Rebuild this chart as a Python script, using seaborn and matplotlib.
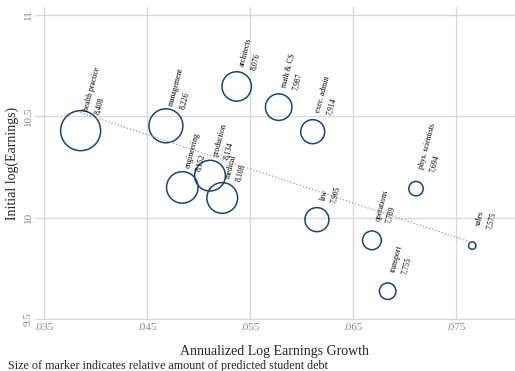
import numpy as np
import pandas as pd
from matplotlib import pyplot as plt
import seaborn as sns

# occupation groups, growth vs initial earnings, label value (predicted debt)
occupations = [
    "health practice", "management", "architects", "math & CS", "exec. admin",
    "phys. scientists", "law", "operations", "sales", "transport",
    "engineering", "production", "medical",
]
growth = [0.03856, 0.04684, 0.05371, 0.05779, 0.06109,
          0.07112, 0.06150, 0.06684, 0.07658, 0.06837,
          0.04843, 0.05112, 0.05231]
log_earn = [10.429, 10.453, 10.647, 10.545, 10.424,
            10.143, 9.990, 9.888, 9.862, 9.637,
            10.149, 10.207, 10.097]
debt_label = ["8,408", "8,226", "8,076", "7,987", "7,914",
              "7,694", "7,905", "7,789", "7,575", "7,755",
              "8,152", "8,134", "8,108"]
# relative amount of predicted student debt (marker weight)
rel_debt = [100, 72, 54, 44, 36, 13, 36, 22, 3.4, 17, 62, 59, 59]

x_ticks = [0.035, 0.045, 0.055, 0.065, 0.075]
x_tick_labels = [".035", ".045", ".055", ".065", ".075"]
y_ticks = [9.5, 10, 10.5, 11]
y_tick_labels = ["9.5", "10", "10.5", "11"]

df = pd.DataFrame({
    "occ": occupations,
    "growth": growth,
    "log_earn": log_earn,
    "label": debt_label,
    "w": rel_debt,
})

sns.set_style("white")
plt.rcParams["font.family"] = ["Liberation Serif", "DejaVu Serif"]

navy = "#1a476f"
grid_col = "#dadada"
tick_col = "#8a8a8a"

fig = plt.figure(figsize=(5.15, 3.71), dpi=100)
ax = fig.add_axes([35 / 515, 51 / 371, 480 / 515, 313 / 371])

ax.set_xlim(0.03413, 0.08073)
ax.set_ylim(9.495, 11.039)
ax.set_xticks(x_ticks)
ax.set_xticklabels(x_tick_labels)
ax.set_yticks(y_ticks)
ax.set_yticklabels(y_tick_labels, rotation=90, va="center")
ax.grid(True, color=grid_col, linewidth=1.0)
ax.set_axisbelow(True)
for s in ax.spines.values():
    s.set_visible(False)
ax.tick_params(axis="both", length=0, labelsize=8, labelcolor=tick_col)
ax.tick_params(axis="x", pad=2)
ax.tick_params(axis="y", pad=1.5)

# marker area proportional to debt weight
sns.scatterplot(
    data=df, x="growth", y="log_earn", s=df["w"] * 8.3,
    facecolor="none", edgecolor=navy, linewidth=1.1, ax=ax, legend=False,
)

# fitted line
sns.regplot(
    data=df, x="growth", y="log_earn", scatter=False, ci=None, truncate=True,
    line_kws={"color": "#9a9a9a", "linewidth": 0.9, "linestyle": (0, (1, 1.6))},
    ax=ax,
)

for _, row in df.iterrows():
    ax.annotate(
        f"{row['occ']}\n{row['label']}",
        xy=(row["growth"], row["log_earn"]),
        xytext=(1.2, 14.9), textcoords="offset points",
        rotation=75, rotation_mode="anchor", ha="left", va="top",
        fontsize=5.6, linespacing=1.6, color="black",
    )

ax.set_xlabel("Annualized Log Earnings Growth", fontsize=10)
ax.set_ylabel("Initial log(Earnings)", fontsize=10)
ax.xaxis.set_label_coords(0.5, -0.080)
ax.yaxis.set_label_coords(-0.034, 0.5)
fig.text(8 / 515, 1 - 366 / 371, "Size of marker indicates relative amount of predicted student debt",
         fontsize=8.7, va="center", ha="left")

plt.savefig("out.png", dpi=100)
